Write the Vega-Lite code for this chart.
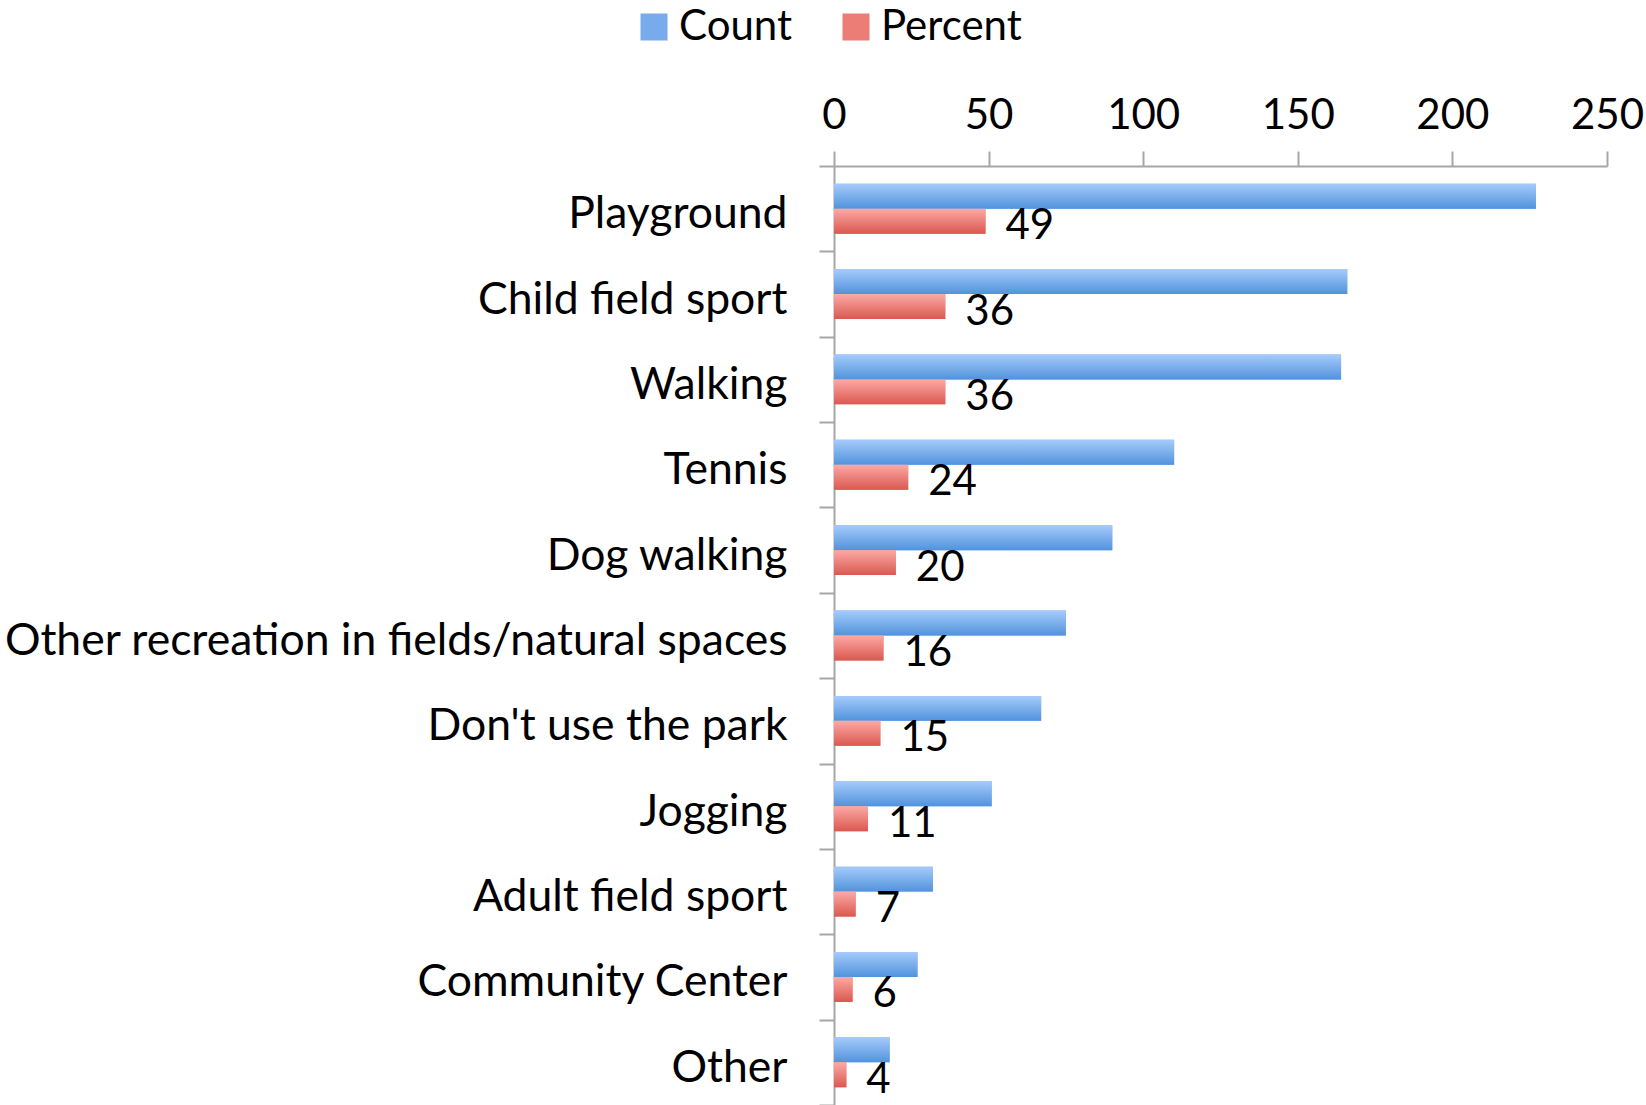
{
  "$schema": "https://vega.github.io/schema/vega-lite/v6.json",
  "autosize": "none",
  "width": 773,
  "height": 939,
  "padding": {"left": 834, "top": 166, "right": 39, "bottom": 0},
  "background": "white",
  "config": {
    "font": "Lato",
    "view": {"stroke": null},
    "axis": {"labelColor": "black", "labelFont": "Lato", "domainColor": "#a6a6a6", "tickColor": "#a6a6a6", "domainWidth": 2, "tickWidth": 2, "grid": false}
  },
  "data": {
    "values": [
      {"category": "Playground", "series": "Count", "value": 227},
      {"category": "Playground", "series": "Percent", "value": 49},
      {"category": "Child field sport", "series": "Count", "value": 166},
      {"category": "Child field sport", "series": "Percent", "value": 36},
      {"category": "Walking", "series": "Count", "value": 164},
      {"category": "Walking", "series": "Percent", "value": 36},
      {"category": "Tennis", "series": "Count", "value": 110},
      {"category": "Tennis", "series": "Percent", "value": 24},
      {"category": "Dog walking", "series": "Count", "value": 90},
      {"category": "Dog walking", "series": "Percent", "value": 20},
      {"category": "Other recreation in fields/natural spaces", "series": "Count", "value": 75},
      {"category": "Other recreation in fields/natural spaces", "series": "Percent", "value": 16},
      {"category": "Don't use the park", "series": "Count", "value": 67},
      {"category": "Don't use the park", "series": "Percent", "value": 15},
      {"category": "Jogging", "series": "Count", "value": 51},
      {"category": "Jogging", "series": "Percent", "value": 11},
      {"category": "Adult field sport", "series": "Count", "value": 32},
      {"category": "Adult field sport", "series": "Percent", "value": 7},
      {"category": "Community Center", "series": "Count", "value": 27},
      {"category": "Community Center", "series": "Percent", "value": 6},
      {"category": "Other", "series": "Count", "value": 18},
      {"category": "Other", "series": "Percent", "value": 4}
    ]
  },
  "encoding": {
    "x": {
      "field": "value", "type": "quantitative",
      "scale": {"domain": [0, 250], "nice": false, "zero": true},
      "axis": {"orient": "top", "title": null, "values": [0, 50, 100, 150, 200, 250], "labelFontSize": 42, "tickSize": 15, "labelPadding": 14, "labelFlush": false}
    },
    "y": {
      "field": "category", "type": "nominal",
      "sort": ["Playground", "Child field sport", "Walking", "Tennis", "Dog walking", "Other recreation in fields/natural spaces", "Don't use the park", "Jogging", "Adult field sport", "Community Center", "Other"],
      "scale": {"paddingInner": 0, "paddingOuter": 0},
      "axis": {"title": null, "tickBand": "extent", "tickSize": 15, "labelPadding": 32, "labelFontSize": 44.5, "labelLimit": 1000, "labelOffset": 6}
    },
    "yOffset": {
      "field": "series", "type": "nominal",
      "scale": {"domain": ["Count", "Percent"], "paddingInner": 0, "paddingOuter": 0.71}
    }
  },
  "layer": [
    {
      "mark": {"type": "bar"},
      "encoding": {
        "color": {
          "field": "series", "type": "nominal",
          "scale": {"domain": ["Count", "Percent"], "range": ["#78aaee", "#ec7d76"]},
          "legend": {
            "title": null, "orient": "none", "direction": "horizontal",
            "legendX": -201, "legendY": -160,
            "symbolType": "square", "symbolSize": 729, "symbolStrokeWidth": 0,
            "labelFontSize": 42, "labelColor": "black", "labelOffset": 4, "columnPadding": 42,
            "labelLimit": 500
          }
        }
      }
    },
    {
      "transform": [{"filter": "datum.series === 'Count'"}],
      "mark": {"type": "bar", "fill": {"gradient": "linear", "x1": 0, "y1": 0, "x2": 0, "y2": 1, "stops": [{"offset": 0, "color": "#a6cbfb"}, {"offset": 1, "color": "#5193dc"}]}}
    },
    {
      "transform": [{"filter": "datum.series === 'Percent'"}],
      "mark": {"type": "bar", "fill": {"gradient": "linear", "x1": 0, "y1": 0, "x2": 0, "y2": 1, "stops": [{"offset": 0, "color": "#fbaaa6"}, {"offset": 1, "color": "#db5850"}]}}
    },
    {
      "transform": [{"filter": "datum.series === 'Percent'"}],
      "mark": {"type": "text", "align": "left", "baseline": "middle", "dx": 20, "dy": 5, "fontSize": 42, "color": "black"},
      "encoding": {"text": {"field": "value", "type": "quantitative"}}
    }
  ]
}
